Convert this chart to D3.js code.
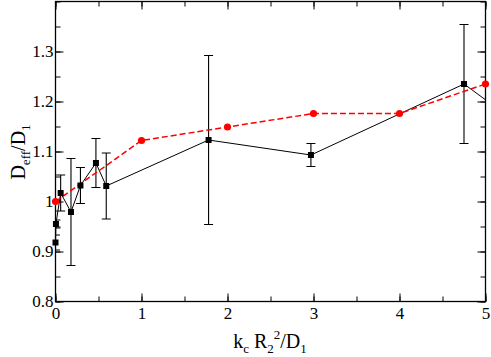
<!DOCTYPE html>
<html><head><meta charset="utf-8">
<script src="https://cdn.jsdelivr.net/npm/d3@7"></script>
<style>body{margin:0;background:#fff}</style>
</head><body><svg id="c" width="491" height="357"></svg>
<script>
const blackX = [0, 0.005, 0.06, 0.18, 0.29, 0.47, 0.59, 1.78, 2.97, 4.75, 6.0];
const blackY = [0.918, 0.955, 1.017, 0.979, 1.032, 1.077, 1.031, 1.123, 1.093, 1.235, 1.077];
const blackErr = [0.015, 0.008, 0.036, 0.107, 0.036, 0.049, 0.066, 0.169, 0.023, 0.119, 0];
const redX = [0, 1, 2, 3, 4, 5];
const redY = [1.0, 1.122, 1.149, 1.176, 1.176, 1.235];
const xTicks = [0, 1, 2, 3, 4, 5];
const yTicks = [0.8, 0.9, 1.0, 1.1, 1.2, 1.3];
const yTickLabels = ["0.8", "0.9", "1", "1.1", "1.2", "1.3"];

const FONT = "'Liberation Serif', 'Times New Roman', Times, 'DejaVu Serif', serif";
const svg = d3.select("#c").attr("font-family", FONT);
const L = 55.5, R = 485.5, T = 1.5, B = 301.5;
const x = d3.scaleLinear().domain([0, 5]).range([L, R]);
const y = d3.scaleLinear().domain([0.8, 1.4]).range([B, T]);

svg.append("defs").append("clipPath").attr("id", "clip")
  .append("rect").attr("x", L).attr("y", T).attr("width", R - L).attr("height", B - T);

const majX = 8, minX = 5;
const xMinor = d3.range(0, 5.01, 0.5);
const yMinor = d3.range(0.8, 1.401, 0.05);
const ax = svg.append("g");
ax.append("g").attr("transform", `translate(0,${B})`)
  .call(d3.axisBottom(x).tickValues(xTicks).tickSize(-majX).tickSizeOuter(0).tickFormat(d3.format("d")))
  .call(g => { g.attr("font-family", FONT); g.select(".domain").remove(); g.selectAll("text").attr("y", 5).attr("dy", "0.71em").attr("font-size", 17).attr("fill", "#000"); });
ax.append("g").attr("transform", `translate(0,${B})`)
  .call(d3.axisBottom(x).tickValues(xMinor).tickSize(-minX).tickFormat(""))
  .call(g => g.select(".domain").remove());
ax.append("g").attr("transform", `translate(0,${T})`)
  .call(d3.axisTop(x).tickValues(xTicks).tickSize(-majX).tickFormat(""))
  .call(g => g.select(".domain").remove());
ax.append("g").attr("transform", `translate(0,${T})`)
  .call(d3.axisTop(x).tickValues(xMinor).tickSize(-minX).tickFormat(""))
  .call(g => g.select(".domain").remove());
ax.append("g").attr("transform", `translate(${L},0)`)
  .call(d3.axisLeft(y).tickValues(yTicks).tickSize(-majX).tickFormat((d, i) => yTickLabels[i]))
  .call(g => { g.attr("font-family", FONT); g.select(".domain").remove(); g.selectAll("text").attr("x", -2).attr("font-size", 17).attr("fill", "#000"); });
ax.append("g").attr("transform", `translate(${L},0)`)
  .call(d3.axisLeft(y).tickValues(yMinor).tickSize(-minX).tickFormat(""))
  .call(g => g.select(".domain").remove());
ax.append("g").attr("transform", `translate(${R},0)`)
  .call(d3.axisRight(y).tickValues(yTicks).tickSize(-majX).tickFormat(""))
  .call(g => g.select(".domain").remove());
ax.append("g").attr("transform", `translate(${R},0)`)
  .call(d3.axisRight(y).tickValues(yMinor).tickSize(-minX).tickFormat(""))
  .call(g => g.select(".domain").remove());
ax.selectAll("line").attr("stroke", "#000");

svg.append("rect").attr("x", L).attr("y", T).attr("width", R - L).attr("height", B - T)
  .attr("fill", "none").attr("stroke", "#000").attr("stroke-width", 1.3);

const plot = svg.append("g").attr("clip-path", "url(#clip)");
const black = blackX.map((d, i) => ({x: d, y: blackY[i], e: blackErr[i]}));
const red = redX.map((d, i) => ({x: d, y: redY[i]}));
const line = d3.line().x(d => x(d.x)).y(d => y(d.y));

const eb = plot.append("g").attr("stroke", "#000").attr("stroke-width", 1.1);
black.filter(d => d.e > 0).forEach(d => {
  const cx = x(d.x), y1 = y(d.y + d.e), y2 = y(d.y - d.e);
  eb.append("line").attr("x1", cx).attr("x2", cx).attr("y1", y1).attr("y2", y2);
  eb.append("line").attr("x1", cx - 4.5).attr("x2", cx + 4.5).attr("y1", y1).attr("y2", y1);
  eb.append("line").attr("x1", cx - 4.5).attr("x2", cx + 4.5).attr("y1", y2).attr("y2", y2);
});

plot.append("path").datum(black).attr("d", line).attr("fill", "none").attr("stroke", "#000").attr("stroke-width", 1);
plot.append("path").datum(red).attr("d", line).attr("fill", "none").attr("stroke", "#ff0000")
  .attr("stroke-width", 1.5).attr("stroke-dasharray", "6,3");

svg.append("g").selectAll("rect").data(black.filter(d => d.x <= 5)).join("rect")
  .attr("x", d => x(d.x) - 3).attr("y", d => y(d.y) - 3).attr("width", 6).attr("height", 6).attr("fill", "#000");
svg.append("g").selectAll("circle").data(red).join("circle")
  .attr("cx", d => x(d.x)).attr("cy", d => y(d.y)).attr("r", 3.6).attr("fill", "#ff0000");

const xt = svg.append("text").attr("x", 270).attr("y", 348).attr("text-anchor", "middle").attr("font-size", 20).attr("fill", "#000").attr("font-family", FONT);
xt.append("tspan").text("k");
xt.append("tspan").attr("font-size", 13).attr("dy", 5).text("c");
xt.append("tspan").attr("dy", -5).text(" R");
xt.append("tspan").attr("font-size", 13).attr("dy", 5).text("2");
xt.append("tspan").attr("font-size", 13).attr("dy", -14).text("2");
xt.append("tspan").attr("dy", 9).text("/D");
xt.append("tspan").attr("font-size", 13).attr("dy", 5).text("1");

const yt = svg.append("text").attr("transform", "translate(25,152) rotate(-90)").attr("text-anchor", "middle").attr("font-size", 20).attr("fill", "#000").attr("font-family", FONT);
yt.append("tspan").text("D");
yt.append("tspan").attr("font-size", 13).attr("dy", 5).text("eff");
yt.append("tspan").attr("dy", -5).text("/D");
yt.append("tspan").attr("font-size", 13).attr("dy", 5).text("1");
</script></body></html>
